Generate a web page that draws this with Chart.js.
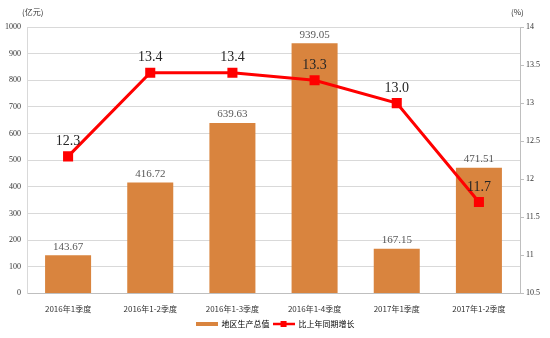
<!DOCTYPE html>
<html>
<head>
<meta charset="utf-8">
<script src="https://cdn.jsdelivr.net/npm/chart.js@4.4.0/dist/chart.umd.min.js"></script>
<style>
  html, body { margin: 0; padding: 0; background: #fff; }
  #wrap { position: relative; width: 550px; height: 338px; }
  .unit { position: absolute; top: 6px; font: 8px "Noto Sans CJK SC", sans-serif; color: #333; }
</style>
</head>
<body>
<div id="wrap">
  <canvas id="gdp" width="550" height="338"></canvas>
  <span class="unit" style="left:22px">(亿元)</span>
  <span class="unit" style="left:511px">(%)</span>
</div>
<script>
const periods = ['2016年1季度', '2016年1-2季度', '2016年1-3季度', '2016年1-4季度', '2017年1季度', '2017年1-2季度'];
const gdpValues = [143.67, 416.72, 639.63, 939.05, 167.15, 471.51];
const growthValues = [12.3, 13.4, 13.4, 13.3, 13.0, 11.7];

const barColor = '#D9843E';
const lineColor = '#FF0000';
const gridColor = '#D9D9D9';
const numFont = '"Liberation Serif", "DejaVu Serif", serif';
const cjkFont = '"Noto Sans CJK SC", sans-serif';

// legend icons
function barIcon() {
  const c = document.createElement('canvas');
  c.width = 22; c.height = 6;
  const g = c.getContext('2d');
  g.fillStyle = barColor;
  g.fillRect(0, 1, 22, 4);
  return c;
}
function lineIcon() {
  const c = document.createElement('canvas');
  c.width = 22; c.height = 8;
  const g = c.getContext('2d');
  g.strokeStyle = lineColor; g.lineWidth = 2.5;
  g.beginPath(); g.moveTo(0, 4); g.lineTo(22, 4); g.stroke();
  g.fillStyle = lineColor;
  g.fillRect(8, 1, 6, 6);
  return c;
}

// value labels on bars and line points
const valueLabels = {
  id: 'valueLabels',
  afterDatasetsDraw(chart) {
    const ctx = chart.ctx;
    ctx.save();
    ctx.textAlign = 'center';
    ctx.textBaseline = 'bottom';
    const bars = chart.getDatasetMeta(0).data;
    ctx.font = '11px ' + numFont;
    ctx.fillStyle = '#595959';
    bars.forEach((el, i) => {
      ctx.fillText(gdpValues[i].toFixed(2), el.x, el.y - 3);
    });
    const pts = chart.getDatasetMeta(1).data;
    ctx.font = '14px ' + numFont;
    ctx.fillStyle = '#262626';
    pts.forEach((el, i) => {
      ctx.fillText(growthValues[i].toFixed(1), el.x, el.y - 8);
    });
    ctx.restore();
  }
};

const plainTick = v => String(v);

new Chart(document.getElementById('gdp'), {
  data: {
    labels: periods,
    datasets: [
      {
        type: 'bar', label: '地区生产总值', data: gdpValues, yAxisID: 'y',
        backgroundColor: barColor, borderWidth: 0,
        categoryPercentage: 1, barPercentage: 0.56, order: 2
      },
      {
        type: 'line', label: '比上年同期增长', data: growthValues, yAxisID: 'y1',
        borderColor: lineColor, backgroundColor: lineColor, borderWidth: 3,
        pointStyle: 'rect', pointRadius: 5, pointHoverRadius: 5, tension: 0, order: 1
      }
    ]
  },
  options: {
    responsive: false,
    animation: false,
    layout: { padding: { left: 0, right: 0, top: 27, bottom: 0 } },
    plugins: {
      tooltip: { enabled: false },
      legend: {
        position: 'bottom',
        labels: {
          usePointStyle: true, pointStyleWidth: 22, boxHeight: 6, padding: 3,
          font: { size: 8, family: cjkFont }, color: '#333',
          generateLabels: () => [
            { text: '地区生产总值', pointStyle: barIcon(), fillStyle: barColor, strokeStyle: barColor, lineWidth: 0, datasetIndex: 0 },
            { text: '比上年同期增长', pointStyle: lineIcon(), fillStyle: lineColor, strokeStyle: lineColor, lineWidth: 0, datasetIndex: 1 }
          ]
        }
      }
    },
    scales: {
      x: {
        grid: { display: false },
        border: { color: '#BFBFBF', width: 1 },
        ticks: { font: { size: 8, family: cjkFont }, color: '#333', maxRotation: 0, padding: 3 }
      },
      y: {
        position: 'left', min: 0, max: 1000,
        afterFit(s) { s.width = 27; },
        grid: { color: gridColor, lineWidth: 1, drawTicks: false },
        border: { color: '#D9D9D9', width: 1 },
        ticks: { stepSize: 100, callback: plainTick, font: { size: 8, family: numFont }, color: '#333', padding: 6 }
      },
      y1: {
        position: 'right', min: 10.5, max: 14,
        afterFit(s) { s.width = 30; },
        grid: { drawOnChartArea: false, tickLength: 4, color: '#BFBFBF' },
        border: { color: '#BFBFBF', width: 1 },
        ticks: { stepSize: 0.5, callback: plainTick, font: { size: 8, family: numFont }, color: '#333', padding: 2 }
      }
    }
  },
  plugins: [valueLabels]
});
</script>
</body>
</html>
